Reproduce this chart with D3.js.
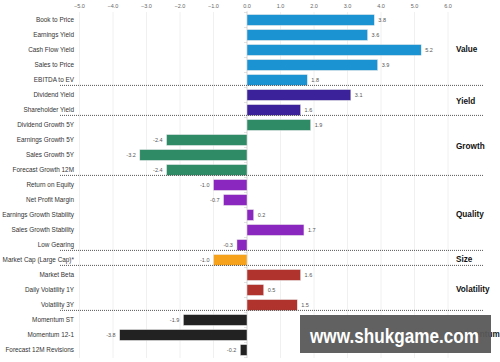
<!DOCTYPE html>
<html>
<head>
<meta charset="utf-8">
<script src="https://cdn.jsdelivr.net/npm/d3@7"></script>
<style>
  body { margin: 0; background: #fff; }
  svg { font-family: "Liberation Sans", Arial, Helvetica, sans-serif; }
</style>
</head>
<body>
<div id="chart"></div>
<script>
// chart data
var factors = [
  "Book to Price", "Earnings Yield", "Cash Flow Yield", "Sales to Price", "EBITDA to EV",
  "Dividend Yield", "Shareholder Yield",
  "Dividend Growth 5Y", "Earnings Growth 5Y", "Sales Growth 5Y", "Forecast Growth 12M",
  "Return on Equity", "Net Profit Margin", "Earnings Growth Stability", "Sales Growth Stability", "Low Gearing",
  "Market Cap (Large Cap)*",
  "Market Beta", "Daily Volatility 1Y", "Volatility 3Y",
  "Momentum ST", "Momentum 12-1", "Forecast 12M Revisions"
];
var values = [
  3.8, 3.6, 5.2, 3.9, 1.8,
  3.1, 1.6,
  1.9, -2.4, -3.2, -2.4,
  -1.0, -0.7, 0.2, 1.7, -0.3,
  -1.0,
  1.6, 0.5, 1.5,
  -1.9, -3.8, -0.2
];
var groups = ["Value", "Yield", "Growth", "Quality", "Size", "Volatility", "Momentum"];
var groupSizes = [5, 2, 4, 5, 1, 3, 3];
var groupColors = ["#1b93d2", "#3b229b", "#2f8a66", "#8a27bf", "#f7a21b", "#b0342d", "#222222"];
var xTicks = [-5, -4, -3, -2, -1, 0, 1, 2, 3, 4, 5, 6];

var svgWidth = 500;
var svgHeight = 362;

var svg = d3.select("#chart")
  .append("svg")
  .attr("width", svgWidth)
  .attr("height", svgHeight);

// which group each row belongs to
var rowGroup = [];
groupSizes.forEach((n, gi) => {
  for (var k = 0; k < n; k++) rowGroup.push(gi);
});

var x = d3.scaleLinear()
  .domain([-5, 6])
  .range([79.5, 448]);

var y = d3.scaleBand()
  .domain(d3.range(factors.length))
  .range([12.5, 357.5])
  .paddingInner(0.28)
  .paddingOuter(0.14);

var step = y.step();

// gridlines
svg.append("g")
  .selectAll("line")
  .data(xTicks)
  .enter()
  .append("line")
  .attr("x1", d => x(d))
  .attr("x2", d => x(d))
  .attr("y1", 12)
  .attr("y2", 358)
  .attr("stroke", "#ececec")
  .attr("stroke-width", 0.8);

// top axis labels
svg.append("g")
  .selectAll("text")
  .data(xTicks)
  .enter()
  .append("text")
  .attr("x", d => x(d))
  .attr("y", 8)
  .attr("text-anchor", "middle")
  .attr("font-size", "5.5px")
  .attr("fill", "#666")
  .text(d => d3.format(".1f")(d));

// zero line with small ticks
svg.append("line")
  .attr("x1", x(0))
  .attr("x2", x(0))
  .attr("y1", 11)
  .attr("y2", 358)
  .attr("stroke", "#d8d8d8")
  .attr("stroke-width", 0.8);

svg.append("g")
  .selectAll("line")
  .data(d3.range(factors.length + 1))
  .enter()
  .append("line")
  .attr("x1", x(0) - 3)
  .attr("x2", x(0))
  .attr("y1", d => y.range()[0] + d * step)
  .attr("y2", d => y.range()[0] + d * step)
  .attr("stroke", "#ccc")
  .attr("stroke-width", 0.6);

// bars
svg.append("g")
  .selectAll("rect")
  .data(values)
  .enter()
  .append("rect")
  .attr("x", d => x(Math.min(0, d)))
  .attr("y", (d, i) => y(i))
  .attr("width", d => Math.abs(x(d) - x(0)))
  .attr("height", y.bandwidth())
  .attr("fill", (d, i) => groupColors[rowGroup[i]])
  .attr("stroke", "#e6e6e6")
  .attr("stroke-width", 0.5);

// value labels
svg.append("g")
  .selectAll("text")
  .data(values)
  .enter()
  .append("text")
  .attr("x", d => d >= 0 ? x(d) + 4 : x(d) - 4)
  .attr("y", (d, i) => y(i) + y.bandwidth() / 2)
  .attr("dy", "0.35em")
  .attr("text-anchor", d => d >= 0 ? "start" : "end")
  .attr("font-size", "5.5px")
  .attr("fill", "#555")
  .text(d => d3.format(".1f")(d).replace("−", "-"));

// factor labels
svg.append("g")
  .selectAll("text")
  .data(factors)
  .enter()
  .append("text")
  .attr("x", 74)
  .attr("y", (d, i) => y(i) + y.bandwidth() / 2)
  .attr("dy", "0.35em")
  .attr("text-anchor", "end")
  .attr("font-size", "6.4px")
  .attr("fill", "#333")
  .text(d => d);

// group separators and names
var start = 0;
groupSizes.forEach((n, gi) => {
  var top = y.range()[0] + start * step;
  var bottom = top + n * step;
  if (gi < groups.length - 1) {
    svg.append("line")
      .attr("x1", 60)
      .attr("x2", 484)
      .attr("y1", bottom - step * 0.14)
      .attr("y2", bottom - step * 0.14)
      .attr("stroke", "#444")
      .attr("stroke-width", 0.9)
      .attr("stroke-dasharray", "1,1");
  }
  svg.append("text")
    .attr("x", 456)
    .attr("y", (top + bottom) / 2 - step * 0.07)
    .attr("dy", "0.35em")
    .attr("font-size", "8.2px")
    .attr("font-weight", "bold")
    .attr("fill", "#111")
    .text(groups[gi]);
  start += n;
});

// watermark over the corner
svg.append("rect")
  .attr("x", 300)
  .attr("y", 315)
  .attr("width", 191)
  .attr("height", 38)
  .attr("fill", "#595959")
  .attr("opacity", 0.95);

svg.append("text")
  .attr("x", 310)
  .attr("y", 343)
  .attr("font-size", "21px")
  .attr("font-weight", "bold")
  .attr("fill", "#fff")
  .attr("textLength", 169)
  .attr("lengthAdjust", "spacingAndGlyphs")
  .text("www.shukgame.com");
</script>
</body>
</html>
